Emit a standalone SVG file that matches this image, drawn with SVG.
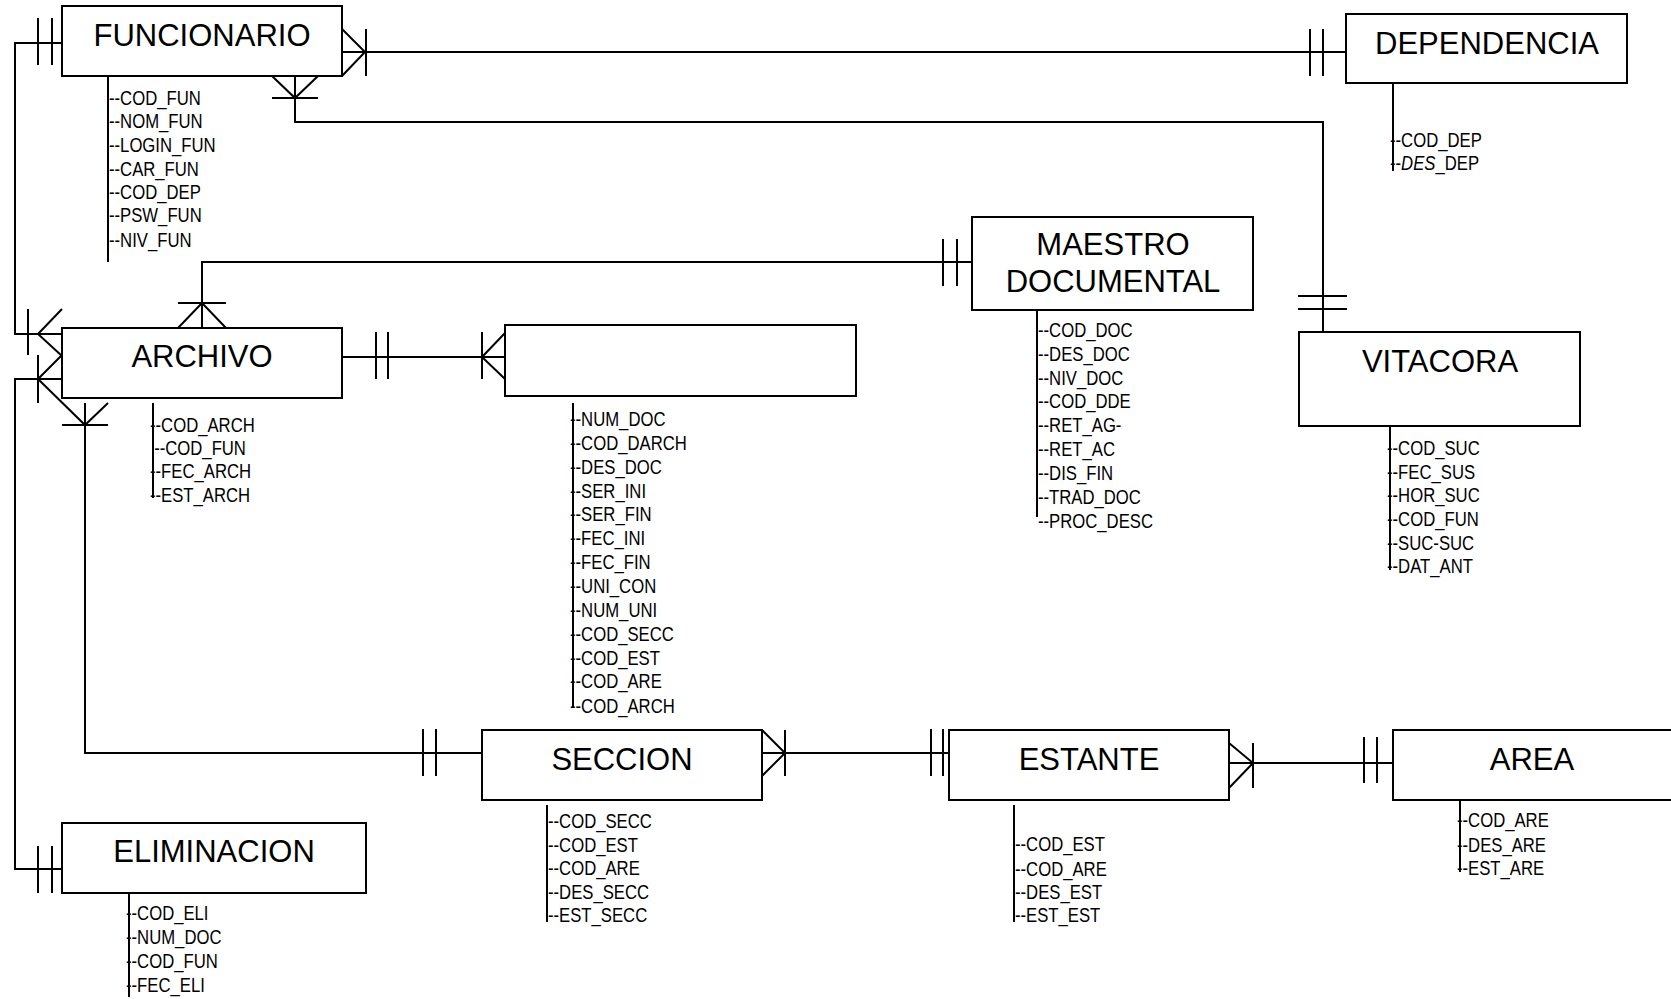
<svg xmlns="http://www.w3.org/2000/svg" width="1671" height="999" viewBox="0 0 1671 999">
<style>
.bg{fill:#ffffff}
.box{fill:#ffffff;stroke:#000000;stroke-width:2}
.ln{fill:none;stroke:#000000;stroke-width:2}
.name{font-family:"Liberation Sans",Arial,sans-serif;font-size:31px;fill:#000000;text-anchor:middle}
.attr{font-family:"Liberation Sans",Arial,sans-serif;font-size:20px;fill:#000000}
</style>
<rect class="bg" x="0" y="0" width="1671" height="999"/>
<g id="connectors">
  <!-- FUNCIONARIO - DEPENDENCIA -->
  <path class="ln" d="M342,52 H1346 M342,29 L365,52 L342,76 M366,29 V76 M1310,29 V76 M1323,29 V76"/>
  <!-- FUNCIONARIO - VITACORA -->
  <path class="ln" d="M295,76 V122 H1323 V332 M272,76 L295,98 L318,76 M272,98 H318 M1298,296 H1347 M1298,309 H1347"/>
  <!-- FUNCIONARIO - ARCHIVO -->
  <path class="ln" d="M62,43 H15 V334 H62 M38,18 V65 M52,18 V65 M62,309 L38,334 L62,356 M28,309 V355"/>
  <!-- ELIMINACION - ARCHIVO -->
  <path class="ln" d="M62,869 H15 V379 H62 M38,846 V893 M52,846 V893 M62,355 L38,379 M38,355 V403"/>
  <!-- ARCHIVO - SECCION -->
  <path class="ln" d="M85,403 V753 H482 M38,379 L85,425 L108,403 M62,425 H108 M423,729 V776 M436,729 V776"/>
  <!-- ARCHIVO - documento -->
  <path class="ln" d="M342,357 H505 M376,332 V379 M388,332 V379 M505,333 L482,357 L505,379 M482,332 V379"/>
  <!-- MAESTRO DOCUMENTAL - ARCHIVO -->
  <path class="ln" d="M972,262 H202 V328 M943,239 V286 M957,239 V286 M178,328 L202,303 L226,328 M178,303 H226"/>
  <!-- SECCION - ESTANTE -->
  <path class="ln" d="M762,753 H949 M762,730 L785,753 L762,776 M785,730 V776 M931,729 V776 M943,729 V776"/>
  <!-- ESTANTE - AREA -->
  <path class="ln" d="M1229,763 H1393 M1229,743 L1253,763 L1229,788 M1253,743 V788 M1364,737 V783 M1377,737 V783"/>
</g>
<g id="funcionario">
  <rect class="box" x="62" y="6" width="280" height="70"/>
  <text class="name" x="202" y="46">FUNCIONARIO</text>
  <path class="ln" d="M108,76 V262"/>
  <g class="attr" transform="translate(109,0) scale(0.835,1)">
    <text y="105">--COD_FUN</text>
    <text y="128">--NOM_FUN</text>
    <text y="152">--LOGIN_FUN</text>
    <text y="176">--CAR_FUN</text>
    <text y="199">--COD_DEP</text>
    <text y="222">--PSW_FUN</text>
    <text y="247">--NIV_FUN</text>
  </g>
</g>
<g id="dependencia">
  <rect class="box" x="1346" y="14" width="281" height="69"/>
  <text class="name" x="1487" y="54">DEPENDENCIA</text>
  <path class="ln" d="M1393,83 V171"/>
  <g class="attr" transform="translate(1390,0) scale(0.835,1)">
    <text y="147">--COD_DEP</text>
    <text y="170">--<tspan font-style="italic">DES</tspan>_DEP</text>
  </g>
</g>
<g id="archivo">
  <rect class="box" x="62" y="328" width="280" height="70"/>
  <text class="name" x="202" y="367">ARCHIVO</text>
  <path class="ln" d="M153,403 V498"/>
  <g class="attr" transform="translate(150,0) scale(0.835,1)">
    <text y="432">--COD_ARCH</text>
    <text x="5" y="455">--COD_FUN</text>
    <text y="478">--FEC_ARCH</text>
    <text y="502">--EST_ARCH</text>
  </g>
</g>
<g id="documento">
  <rect class="box" x="505" y="325" width="351" height="71"/>
  <path class="ln" d="M573,403 V708"/>
  <g class="attr" transform="translate(570,0) scale(0.835,1)">
    <text y="426">--NUM_DOC</text>
    <text y="450">--COD_DARCH</text>
    <text y="474">--DES_DOC</text>
    <text y="498">--SER_INI</text>
    <text y="521">--SER_FIN</text>
    <text y="545">--FEC_INI</text>
    <text y="569">--FEC_FIN</text>
    <text y="593">--UNI_CON</text>
    <text y="617">--NUM_UNI</text>
    <text y="641">--COD_SECC</text>
    <text y="665">--COD_EST</text>
    <text y="688">--COD_ARE</text>
    <text y="713">--COD_ARCH</text>
  </g>
</g>
<g id="maestro">
  <rect class="box" x="972" y="217" width="281" height="93"/>
  <text class="name" x="1113" y="255">MAESTRO</text>
  <text class="name" x="1113" y="292">DOCUMENTAL</text>
  <path class="ln" d="M1037,310 V517"/>
  <g class="attr" transform="translate(1038,0) scale(0.835,1)">
    <text y="337">--COD_DOC</text>
    <text y="361">--DES_DOC</text>
    <text y="385">--NIV_DOC</text>
    <text y="408">--COD_DDE</text>
    <text y="432">--RET_AG-</text>
    <text y="456">--RET_AC</text>
    <text y="480">--DIS_FIN</text>
    <text y="504">--TRAD_DOC</text>
    <text y="528">--PROC_DESC</text>
  </g>
</g>
<g id="vitacora">
  <rect class="box" x="1299" y="332" width="281" height="94"/>
  <text class="name" x="1440" y="372">VITACORA</text>
  <path class="ln" d="M1390,426 V570"/>
  <g class="attr" transform="translate(1387,0) scale(0.835,1)">
    <text y="455">--COD_SUC</text>
    <text y="479">--FEC_SUS</text>
    <text y="502">--HOR_SUC</text>
    <text y="526">--COD_FUN</text>
    <text y="550">--SUC-SUC</text>
    <text y="573">--DAT_ANT</text>
  </g>
</g>
<g id="eliminacion">
  <rect class="box" x="62" y="823" width="304" height="70"/>
  <text class="name" x="214" y="862">ELIMINACION</text>
  <path class="ln" d="M129,893 V997"/>
  <g class="attr" transform="translate(126,0) scale(0.835,1)">
    <text y="920">--COD_ELI</text>
    <text y="944">--NUM_DOC</text>
    <text y="968">--COD_FUN</text>
    <text y="992">--FEC_ELI</text>
  </g>
</g>
<g id="seccion">
  <rect class="box" x="482" y="730" width="280" height="70"/>
  <text class="name" x="622" y="770">SECCION</text>
  <path class="ln" d="M547,805 V922"/>
  <g class="attr" transform="translate(548,0) scale(0.835,1)">
    <text y="828">--COD_SECC</text>
    <text y="852">--COD_EST</text>
    <text y="875">--COD_ARE</text>
    <text y="899">--DES_SECC</text>
    <text y="922">--EST_SECC</text>
  </g>
</g>
<g id="estante">
  <rect class="box" x="949" y="730" width="280" height="70"/>
  <text class="name" x="1089" y="770">ESTANTE</text>
  <path class="ln" d="M1014,805 V922"/>
  <g class="attr" transform="translate(1015,0) scale(0.835,1)">
    <text y="851">--COD_EST</text>
    <text y="876">--COD_ARE</text>
    <text y="899">--DES_EST</text>
    <text y="922">--EST_EST</text>
  </g>
</g>
<g id="area">
  <rect class="box" x="1393" y="730" width="280" height="70"/>
  <text class="name" x="1532" y="770">AREA</text>
  <path class="ln" d="M1460,800 V872"/>
  <g class="attr" transform="translate(1457,0) scale(0.835,1)">
    <text y="827">--COD_ARE</text>
    <text y="852">--DES_ARE</text>
    <text y="875">--EST_ARE</text>
  </g>
</g>
</svg>
